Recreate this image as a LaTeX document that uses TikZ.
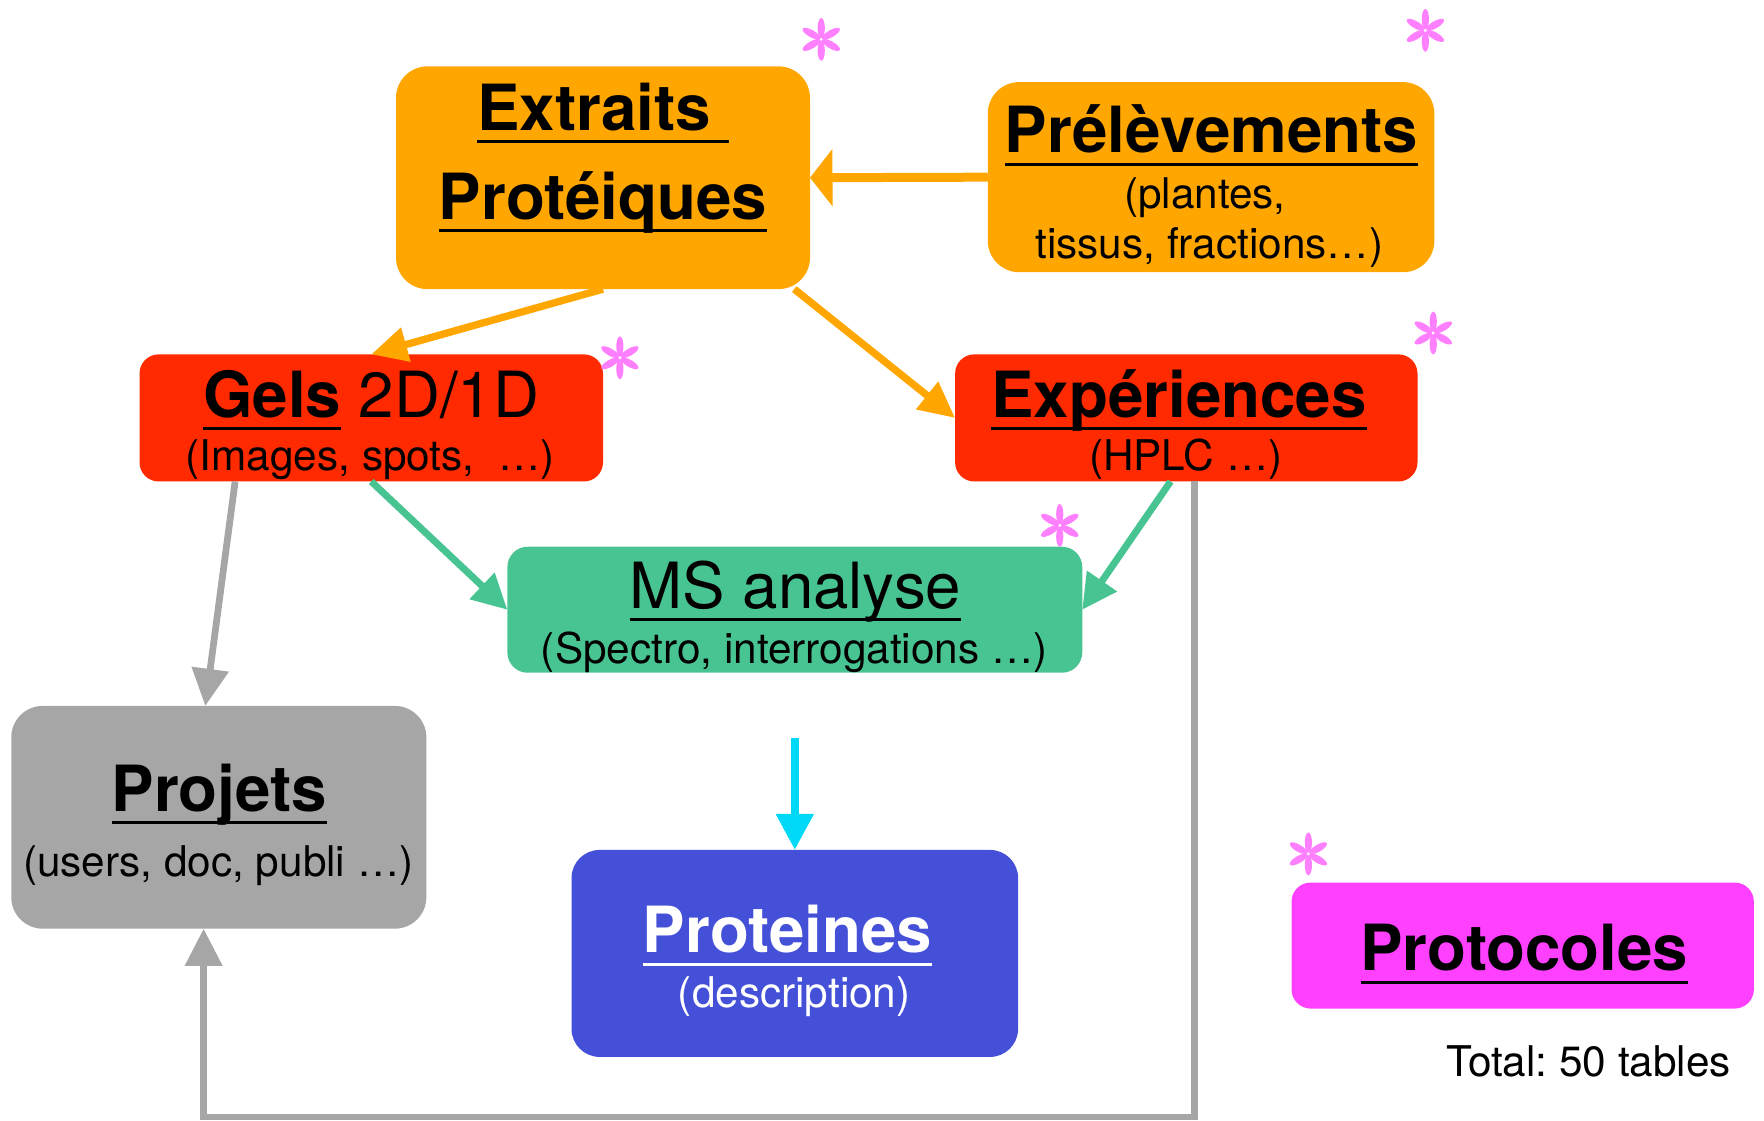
\documentclass[tikz,border=0pt]{standalone}
\usepackage{fontspec}
\setmainfont{TeX Gyre Heros}
\usetikzlibrary{arrows.meta,calc}
\definecolor{orng}{RGB}{255,166,0}
\definecolor{redb}{RGB}{255,42,0}
\definecolor{grnb}{RGB}{72,196,146}
\definecolor{gryb}{RGB}{166,166,166}
\definecolor{blub}{RGB}{68,80,216}
\definecolor{magb}{RGB}{255,64,255}
\definecolor{cyna}{RGB}{0,216,248}
\definecolor{pnk}{RGB}{255,128,255}
\frenchspacing
\newcommand\ulx[1]{\setbox0\hbox{#1}\rlap{\rule[-3.2pt]{\wd0}{0.75pt}}\box0}
\newcommand\astr[2]{\foreach \a in {30,90,150,210,270,330}{\fill[pnk,shift={(#1,#2)},rotate=\a] (10,0) ellipse [x radius=0.9mm, y radius=0.32mm];}}
\begin{document}
\begin{tikzpicture}[x=0.1mm,y=-0.1mm,
  box/.style={rectangle, inner sep=0pt, outer sep=0pt, draw=none},
  tt/.style={inner sep=0pt, anchor=base},
  big/.style={font=\fontsize{16.1}{19}\selectfont\bfseries},
  med/.style={font=\fontsize{16.1}{19}\selectfont},
  sm/.style={font=\fontsize{10.7}{13}\selectfont},
  oarr/.style={draw=orng, line width=0.8mm, -{Triangle[length=2.0mm, width=5.0mm]}},
  oarrb/.style={draw=orng, line width=0.65mm, -{Triangle[length=3.2mm, width=3.0mm]}},
  garr/.style={draw=grnb, line width=0.62mm, -{Triangle[length=3.1mm, width=3.1mm]}},
  grarr/.style={draw=gryb, line width=0.6mm, -{Triangle[length=3.3mm, width=3.2mm]}},
  carr/.style={draw=cyna, line width=0.72mm, -{Triangle[length=3.2mm, width=3.2mm]}},
]
\useasboundingbox (0,0) rectangle (1568,996);
% boxes
\node[box, fill=orng, minimum width=36.8mm, minimum height=19.8mm, rounded corners=2.8mm] (ext) at (536,158) {};
\node[box, fill=orng, minimum width=39.7mm, minimum height=16.9mm, rounded corners=2.8mm] (pre) at (1076.5,157.5) {};
\node[box, fill=redb, minimum width=41.2mm, minimum height=11.3mm, rounded corners=1.7mm] (gels) at (330,371.5) {};
\node[box, fill=redb, minimum width=41.1mm, minimum height=11.3mm, rounded corners=1.7mm] (exp) at (1054.5,371.5) {};
\node[box, fill=grnb, minimum width=51.1mm, minimum height=11.2mm, rounded corners=1.8mm] (ms) at (706.5,542) {};
\node[box, fill=gryb, minimum width=36.9mm, minimum height=19.8mm, rounded corners=2.8mm] (proj) at (194.5,726.5) {};
\node[box, fill=blub, minimum width=39.7mm, minimum height=18.4mm, rounded corners=2.5mm] (prot) at (706.5,847.5) {};
\node[box, fill=magb, minimum width=41.1mm, minimum height=11.2mm, rounded corners=1.7mm] (protoc) at (1353.5,840.5) {};
% texts
\node[tt, big] (e1) at (536,116) {\ulx{Extraits\ }};
\node[tt, big] (e2) at (536,195) {\ulx{Protéiques}};
\node[tt, big] (p1) at (1077,136) {\ulx{Prélèvements}};
\node[tt, sm] (p2) at (1071,185) {(plantes,};
\node[tt, sm] (p3) at (1075,230) {tissus, fractions…)};
\node[tt, med] (g1) at (330,371) {{\bfseries\ulx{Gels}} 2D/1D};
\node[tt, sm] (g2) at (329,418) {(Images, spots,\ \ …)};
\node[tt, big] (x1) at (1048,371) {\ulx{Expériences}};
\node[tt, sm] (x2) at (1054,418) {(HPLC …)};
\node[tt, med] (m1) at (707,541) {\ulx{MS analyse}};
\node[tt, sm] (m2) at (706,590) {(Spectro, interrogations …)};
\node[tt, big] (j1) at (195,721) {\ulx{Projets}};
\node[tt, sm] (j2) at (194,779) {(users, doc, publi …)};
\node[tt, big, text=white] (r1) at (700,847) {\ulx{Proteines}};
\node[tt, sm, text=white] (r2) at (706,896) {(description)};
\node[tt, big] (c1) at (1355,863) {\ulx{Protocoles}};
\node[tt, sm] (tot) at (1412,957) {Total: 50 tables};
% connectors
\draw[oarr] (pre.west) -- (ext.east);
\draw[oarrb] (ext.south) -- (gels.north);
\draw[oarrb] ([xshift=-1.4mm]ext.south east) -- (exp.west);
\draw[garr] (gels.south) -- (ms.west);
\draw[garr] ([xshift=-1.4mm]exp.south) -- (ms.east);
\draw[grarr] ([xshift=-12.1mm]gels.south) -- ([xshift=-1.2mm]proj.north);
\coordinate (bot) at (0,993);
\draw[grarr] ([xshift=0.75mm]exp.south) -- ([xshift=0.75mm]exp.south |- bot) -| ([xshift=-1.35mm]proj.south);
\coordinate (cyst) at (706.5,656);
\draw[carr] (cyst) -- (prot.north);
% asterisks
\astr{730}{35}
\astr{1267}{27}
\astr{551}{318}
\astr{1274}{296}
\astr{942}{467}
\astr{1163}{759}
\end{tikzpicture}
\end{document}
